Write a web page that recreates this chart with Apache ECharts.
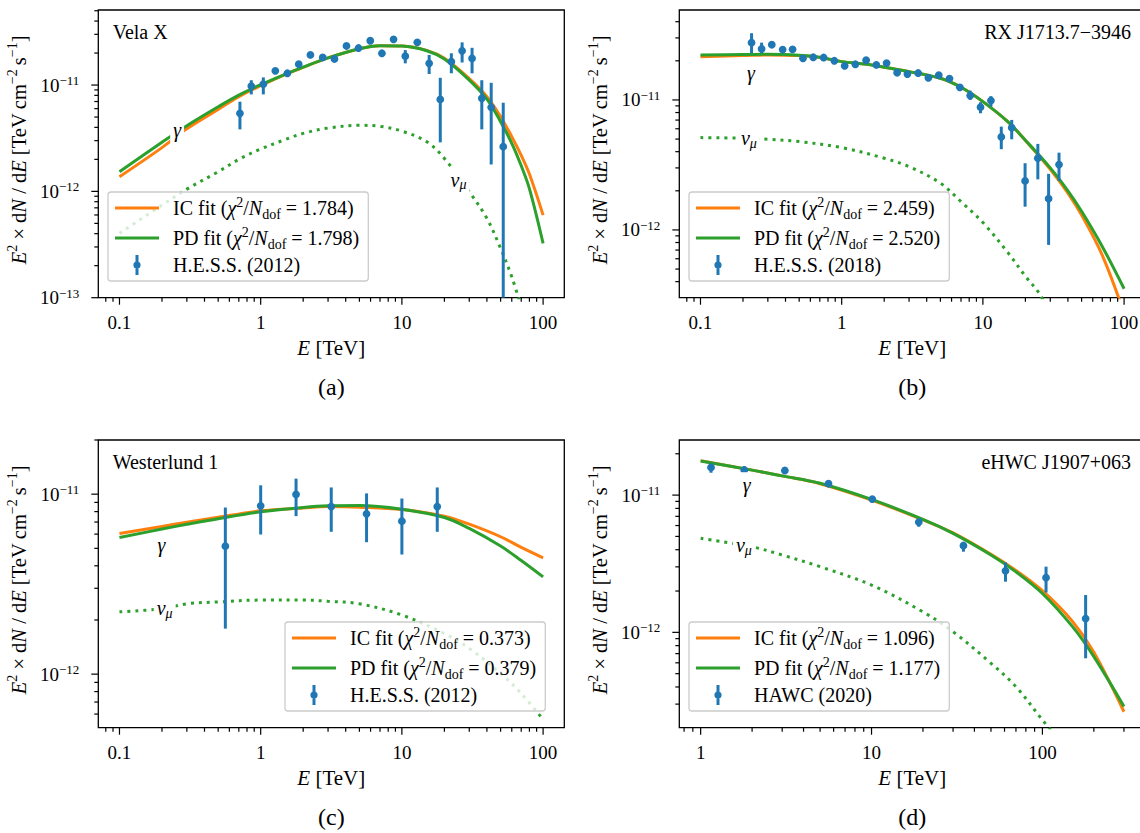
<!DOCTYPE html>
<html><head><meta charset="utf-8">
<script src="https://cdn.jsdelivr.net/npm/echarts@6.0.0/dist/echarts.min.js"></script>
<style>html,body{margin:0;padding:0;background:#fff}#chart{width:1140px;height:833px}</style>
</head><body><div id="chart"></div>
<script>
// ================= DATA =================
// (a) Vela X — H.E.S.S. (2012)
const velaE    = [0.713, 0.858, 1.044, 1.27, 1.545, 1.86, 2.25, 2.75, 3.33, 4.05, 4.93, 5.97, 7.22, 8.73, 10.57, 12.86, 15.6, 18.7, 22.4, 26.7, 31.4, 36.8, 42.9, 52.2];
const velaFlux = [5.42e-12, 9.78e-12, 1.02e-11, 1.36e-11, 1.29e-11, 1.57e-11, 1.92e-11, 1.82e-11, 1.76e-11, 2.33e-11, 2.23e-11, 2.61e-11, 1.99e-11, 2.69e-11, 1.87e-11, 2.52e-11, 1.60e-11, 7.33e-12, 1.66e-11, 2.10e-11, 1.78e-11, 7.5e-12, 6.17e-12, 2.63e-12];
const velaLo   = [3.83e-12, 8.17e-12, 8.17e-12, 1.30e-11, 1.23e-11, 1.50e-11, 1.84e-11, 1.74e-11, 1.68e-11, 2.24e-11, 2.14e-11, 2.50e-11, 1.90e-11, 2.58e-11, 1.60e-11, 2.41e-11, 1.27e-11, 2.89e-12, 1.29e-11, 1.63e-11, 1.29e-11, 3.83e-12, 1.79e-12, 1e-14];
const velaHi   = [6.97e-12, 1.11e-11, 1.18e-11, 1.42e-11, 1.35e-11, 1.64e-11, 2.01e-11, 1.90e-11, 1.84e-11, 2.43e-11, 2.33e-11, 2.73e-11, 2.08e-11, 2.81e-11, 2.13e-11, 2.64e-11, 1.92e-11, 1.17e-11, 1.99e-11, 2.52e-11, 2.24e-11, 1.11e-11, 1.05e-11, 6.82e-12];
const velaCurveE = [0.1, 0.2, 0.3, 0.5, 0.7, 1, 1.5, 2, 3, 5, 7, 10, 15, 20, 30, 40, 50, 60, 70, 80, 100];
const velaIC = [1.373e-12, 2.58e-12, 3.88e-12, 5.90e-12, 7.77e-12, 9.86e-12, 1.26e-11, 1.466e-11, 1.80e-11, 2.197e-11, 2.344e-11, 2.327e-11, 2.119e-11, 1.782e-11, 1.147e-11, 7.77e-12, 5.04e-12, 3.27e-12, 2.18e-12, 1.455e-12, 5.98e-13];
const velaPD = [1.53e-12, 2.90e-12, 4.15e-12, 6.25e-12, 8.05e-12, 1.007e-11, 1.269e-11, 1.477e-11, 1.80e-11, 2.197e-11, 2.344e-11, 2.327e-11, 2.104e-11, 1.757e-11, 1.114e-11, 7.38e-12, 4.52e-12, 2.83e-12, 1.74e-12, 1.06e-12, 3.24e-13];
const velaNuE = [0.1, 0.2, 0.3, 0.5, 0.7, 1, 1.5, 2, 3, 5, 7, 10, 15, 20, 30, 40, 50, 60, 70];
const velaNu  = [4.03e-13, 7.43e-13, 1.05e-12, 1.53e-12, 2.0e-12, 2.5e-12, 3.08e-12, 3.51e-12, 3.94e-12, 4.18e-12, 4.09e-12, 3.69e-12, 2.93e-12, 2.04e-12, 9.91e-13, 5.57e-13, 2.91e-13, 1.57e-13, 8.2e-14];

// (b) RX J1713.7−3946 — H.E.S.S. (2018)
const rxE    = [0.230, 0.271, 0.320, 0.382, 0.449, 0.532, 0.629, 0.745, 0.887, 1.05, 1.25, 1.49, 1.76, 2.08, 2.47, 2.92, 3.48, 4.11, 4.87, 5.80, 6.87, 8.13, 9.62, 11.4, 13.5, 16.0, 19.9, 24.5, 29.2, 34.6];
const rxFlux = [2.76e-11, 2.47e-11, 2.66e-11, 2.44e-11, 2.45e-11, 2.09e-11, 2.13e-11, 2.12e-11, 2.00e-11, 1.83e-11, 1.88e-11, 2.02e-11, 1.86e-11, 1.92e-11, 1.62e-11, 1.58e-11, 1.61e-11, 1.48e-11, 1.55e-11, 1.46e-11, 1.25e-11, 1.08e-11, 8.79e-12, 9.88e-12, 5.19e-12, 6.12e-12, 2.38e-12, 3.56e-12, 1.74e-12, 3.18e-12];
const rxLo   = [2.29e-11, 2.29e-11, 2.56e-11, 2.35e-11, 2.36e-11, 2.01e-11, 2.05e-11, 2.04e-11, 1.92e-11, 1.76e-11, 1.81e-11, 1.94e-11, 1.79e-11, 1.85e-11, 1.56e-11, 1.52e-11, 1.55e-11, 1.42e-11, 1.49e-11, 1.40e-11, 1.19e-11, 1.0e-11, 7.9e-12, 8.88e-12, 4.18e-12, 4.98e-12, 1.51e-12, 2.45e-12, 7.67e-13, 2.38e-12];
const rxHi   = [3.26e-11, 2.76e-11, 2.76e-11, 2.53e-11, 2.54e-11, 2.17e-11, 2.21e-11, 2.20e-11, 2.08e-11, 1.90e-11, 1.95e-11, 2.10e-11, 1.93e-11, 1.99e-11, 1.68e-11, 1.64e-11, 1.67e-11, 1.54e-11, 1.61e-11, 1.52e-11, 1.31e-11, 1.18e-11, 9.6e-12, 1.07e-11, 6.23e-12, 7.02e-12, 3.26e-12, 4.59e-12, 2.70e-12, 3.93e-12];
const rxCurveE = [0.1, 0.2, 0.3, 0.5, 0.7, 1, 1.5, 2, 3, 5, 7, 10, 15, 20, 30, 40, 50, 70, 100];
const rxIC = [2.154e-11, 2.193e-11, 2.22e-11, 2.193e-11, 2.117e-11, 1.972e-11, 1.881e-11, 1.784e-11, 1.652e-11, 1.468e-11, 1.252e-11, 9.71e-12, 6.81e-12, 4.88e-12, 2.93e-12, 1.92e-12, 1.30e-12, 6.4e-13, 2.29e-13];
const rxPD = [2.22e-11, 2.233e-11, 2.246e-11, 2.206e-11, 2.129e-11, 1.972e-11, 1.881e-11, 1.784e-11, 1.652e-11, 1.468e-11, 1.252e-11, 9.71e-12, 6.81e-12, 4.90e-12, 3.0e-12, 2.0e-12, 1.39e-12, 7.46e-13, 3.53e-13];
const rxNuE = [0.1, 0.2, 0.3, 0.5, 1, 2, 3, 5, 7, 10, 15, 20, 25, 30];
const rxNu  = [5.13e-12, 5.08e-12, 4.98e-12, 4.78e-12, 4.3e-12, 3.56e-12, 3.07e-12, 2.29e-12, 1.65e-12, 1.14e-12, 6.71e-13, 4.4e-13, 3.26e-13, 2.3e-13];

// (c) Westerlund 1 — H.E.S.S. (2012)
const wdE    = [0.562, 1.0, 1.78, 3.16, 5.62, 10.0, 17.8];
const wdFlux = [5.14e-12, 8.61e-12, 9.96e-12, 8.54e-12, 7.78e-12, 7.08e-12, 8.54e-12];
const wdLo   = [1.79e-12, 5.97e-12, 7.55e-12, 6.18e-12, 5.41e-12, 4.62e-12, 6.18e-12];
const wdHi   = [8.43e-12, 1.12e-11, 1.22e-11, 1.09e-11, 1.01e-11, 9.46e-12, 1.09e-11];
const wdCurveE = [0.1, 0.2, 0.3, 0.5, 1, 2, 3, 5, 10, 20, 30, 50, 70, 100];
const wdIC = [6.04e-12, 6.62e-12, 6.98e-12, 7.45e-12, 8.08e-12, 8.39e-12, 8.54e-12, 8.47e-12, 8.22e-12, 7.55e-12, 6.81e-12, 5.8e-12, 5.06e-12, 4.43e-12];
const wdPD = [5.74e-12, 6.40e-12, 6.80e-12, 7.31e-12, 7.98e-12, 8.43e-12, 8.61e-12, 8.65e-12, 8.25e-12, 7.42e-12, 6.45e-12, 5.15e-12, 4.28e-12, 3.47e-12];
const wdNuE = [0.1, 0.2, 0.3, 0.5, 1, 2, 3, 5, 10, 20, 30, 50, 70, 100];
const wdNu  = [2.22e-12, 2.31e-12, 2.46e-12, 2.52e-12, 2.58e-12, 2.58e-12, 2.54e-12, 2.46e-12, 2.13e-12, 1.68e-12, 1.39e-12, 1.01e-12, 7.81e-13, 5.6e-13];

// (d) eHWC J1907+063 — HAWC (2020)
const ehE    = [1.15, 1.80, 3.11, 5.60, 10.1, 18.9, 34.5, 60.8, 105, 179];
const ehFlux = [1.59e-11, 1.52e-11, 1.51e-11, 1.21e-11, 9.35e-12, 6.36e-12, 4.28e-12, 2.81e-12, 2.50e-12, 1.26e-12];
const ehLo   = [1.455e-11, 1.41e-11, 1.45e-11, 1.16e-11, 8.95e-12, 5.88e-12, 3.87e-12, 2.34e-12, 1.95e-12, 6.47e-13];
const ehHi   = [1.70e-11, 1.63e-11, 1.57e-11, 1.26e-11, 9.75e-12, 6.76e-12, 4.57e-12, 3.23e-12, 3.01e-12, 1.87e-12];
const ehCurveE = [1, 2, 3, 5, 10, 20, 30, 50, 70, 100, 150, 200, 300];
const ehIC = [1.78e-11, 1.52e-11, 1.38e-11, 1.21e-11, 9.2e-12, 6.6e-12, 5.3e-12, 3.7e-12, 2.82e-12, 2.01e-12, 1.20e-12, 7.15e-13, 2.64e-13];
const ehPD = [1.77e-11, 1.52e-11, 1.38e-11, 1.22e-11, 9.3e-12, 6.65e-12, 5.26e-12, 3.66e-12, 2.76e-12, 1.92e-12, 1.10e-12, 6.65e-13, 2.88e-13];
const ehNuE = [1, 2, 3, 5, 10, 20, 30, 50, 70, 100, 120];
const ehNu  = [4.84e-12, 4.2e-12, 3.66e-12, 3.01e-12, 2.21e-12, 1.41e-12, 1.01e-12, 5.95e-13, 4.02e-13, 2.30e-13, 1.75e-13];

// text content
const panelNames = ['Vela X', 'RX J1713.7\u22123946', 'Westerlund 1', 'eHWC J1907+063'];
const panelTags = ['(a)', '(b)', '(c)', '(d)'];
const dataNames = ['H.E.S.S. (2012)', 'H.E.S.S. (2018)', 'H.E.S.S. (2012)', 'HAWC (2020)'];
const icChi = ['1.784', '2.459', '0.373', '1.096'];
const pdChi = ['1.798', '2.520', '0.379', '1.177'];
// curve label anchors (data coordinates)
const curveLabelText = ['gamma', 'nu'];
const curveLabelE = [[0.256, 25.2], [0.228, 0.220], [0.198, 0.209], [1.86, 1.79]];
const curveLabelF = [[3.77e-12, 1.28e-12], [1.6e-11, 5.07e-12], [5.21e-12, 2.32e-12], [1.18e-11, 4.32e-12]];

// ================= LAYOUT / STYLE =================
const FONT = 'Liberation Serif, Times New Roman, serif';
const BLUE = '#1f77b4', ORANGE = '#ff7f0e', GREEN = '#2ca02c';
const PW = 466, PH = 287.7;
const layout = [
  {left: 98.3,  top: 10,  xr: [0.0708, 141.3], yr: [1e-13, 5.08e-11],   lg: {left: 108, top: 192}, nameAlign: 'left'},
  {left: 679.3, top: 10,  xr: [0.0708, 141.3], yr: [3.01e-13, 4.92e-11], lg: {left: 689, top: 192}, nameAlign: 'right'},
  {left: 98.3,  top: 440, xr: [0.0708, 141.3], yr: [5.04e-13, 2.0e-11],  lg: {left: 285, top: 622}, nameAlign: 'left'},
  {left: 679.3, top: 440, xr: [0.75, 400],     yr: [2.02e-13, 2.52e-11], lg: {left: 689, top: 622}, nameAlign: 'right'}
];
const panelData = [
  {E: velaE, F: velaFlux, lo: velaLo, hi: velaHi, cE: velaCurveE, ic: velaIC, pd: velaPD, nE: velaNuE, nu: velaNu},
  {E: rxE, F: rxFlux, lo: rxLo, hi: rxHi, cE: rxCurveE, ic: rxIC, pd: rxPD, nE: rxNuE, nu: rxNu},
  {E: wdE, F: wdFlux, lo: wdLo, hi: wdHi, cE: wdCurveE, ic: wdIC, pd: wdPD, nE: wdNuE, nu: wdNu},
  {E: ehE, F: ehFlux, lo: ehLo, hi: ehHi, cE: ehCurveE, ic: ehIC, pd: ehPD, nE: ehNuE, nu: ehNu}
];

function logTicks(min, max) {
  const out = [];
  for (let d = Math.floor(Math.log10(min)); d <= Math.ceil(Math.log10(max)); d++) {
    for (let m = 1; m <= 9; m++) {
      const v = m * Math.pow(10, d);
      if (v >= min * 0.9999 && v <= max * 1.0001) out.push([v, m === 1 ? 1 : 0]);
    }
  }
  return out;
}
function exponentOf(v) {
  const l = Math.log10(v), e = Math.round(l);
  return Math.abs(l - e) < 1e-6 ? e : null;
}
function xFmt(v) {
  const e = exponentOf(v);
  if (e === null) return '';
  return e < 0 ? '0.' + '0'.repeat(-e - 1) + '1' : '1' + '0'.repeat(e);
}
function yFmt(v) {
  const e = exponentOf(v);
  if (e === null) return '';
  return '{b|10}{s|' + (e < 0 ? '\u2212' : '') + Math.abs(e) + '}';
}

const ERR_ICON = 'path://M0.4,10a3.6,3.6 0 1 1 7.2,0a3.6,3.6 0 1 1 -7.2,0z M2.5,0h3v20h-3z';
const LINE_ICON = 'path://M0,0h44v3h-44z';
const icName = i => 'IC fit (\u03c7\u00b2/N_dof = ' + icChi[i] + ')';
const pdName = i => 'PD fit (\u03c7\u00b2/N_dof = ' + pdChi[i] + ')';

function legendFmt(name) {
  const m = name.match(/^(IC|PD) fit \(\u03c7\u00b2\/N_dof = ([\d.]+)\)$/);
  if (m) return '{g| }{t|' + m[1] + ' fit (}{i|\u03c7}{sup|2}{t|/}{i|N}{sub|dof}{t| = ' + m[2] + ')}';
  return '{g| }{t|' + name + '}';
}
const legendRich = {
  g: {width: 9, fontSize: 20, lineHeight: 26},
  t: {fontSize: 20, lineHeight: 26, fontFamily: FONT, color: '#000'},
  i: {fontSize: 20, lineHeight: 26, fontFamily: FONT, fontStyle: 'italic', color: '#000'},
  sup: {fontSize: 14, lineHeight: 14, fontFamily: FONT, verticalAlign: 'top', color: '#000'},
  sub: {fontSize: 14, lineHeight: 15, fontFamily: FONT, verticalAlign: 'bottom', color: '#000'}
};

const grids = [], xAxes = [], yAxes = [], series = [], legends = [], graphics = [];
layout.forEach((L, i) => {
  const D = panelData[i];
  grids.push({left: L.left, top: L.top, width: PW, height: PH, show: true, borderColor: '#000', borderWidth: 1.3,
    backgroundColor: 'transparent', containLabel: false, outerBoundsMode: 'none'});
  xAxes.push({type: 'log', logBase: 10, gridIndex: i, min: L.xr[0], max: L.xr[1],
    axisLine: {show: false}, axisTick: {show: false}, minorTick: {show: false}, splitLine: {show: false},
    axisLabel: {formatter: xFmt, color: '#000', fontSize: 19, fontFamily: FONT, margin: 15, lineHeight: 19},
    name: '{i|E}{t| [TeV]}', nameLocation: 'middle', nameGap: 38,
    nameTextStyle: {rich: {i: {fontSize: 21, fontStyle: 'italic', fontFamily: FONT, color: '#000', lineHeight: 24},
                           t: {fontSize: 21, fontFamily: FONT, color: '#000', lineHeight: 24}}}});
  yAxes.push({type: 'log', logBase: 10, gridIndex: i, min: L.yr[0], max: L.yr[1],
    axisLine: {show: false}, axisTick: {show: false}, minorTick: {show: false}, splitLine: {show: false},
    axisLabel: {formatter: yFmt, margin: 19, rich: {
      b: {fontSize: 19, lineHeight: 22, fontFamily: FONT, color: '#000'},
      s: {fontSize: 13, lineHeight: 13, fontFamily: FONT, color: '#000', verticalAlign: 'top'}}},
    name: '{i|E}{sup|2}{t| \u00d7 d}{i|N}{t| / d}{i|E}{t| [TeV\u2009cm}{sup|\u22122}{t|\u2009s}{sup|\u22121}{t|]}',
    nameLocation: 'middle', nameGap: 65,
    nameTextStyle: {padding: [0, 0, 0, 8], rich: {
      i: {fontSize: 20.5, fontStyle: 'italic', fontFamily: FONT, color: '#000', lineHeight: 28},
      t: {fontSize: 20.5, fontFamily: FONT, color: '#000', lineHeight: 28},
      sup: {fontSize: 14, fontFamily: FONT, color: '#000', lineHeight: 14, verticalAlign: 'top'}}}});

  series.push({type: 'line', name: icName(i), xAxisIndex: i, yAxisIndex: i, symbol: 'none', smooth: 0.35,
    data: D.cE.map((e, k) => [e, D.ic[k]]), lineStyle: {color: ORANGE, width: 3}, itemStyle: {color: ORANGE}, z: 2, silent: true});
  series.push({type: 'line', name: pdName(i), xAxisIndex: i, yAxisIndex: i, symbol: 'none', smooth: 0.35,
    data: D.cE.map((e, k) => [e, D.pd[k]]), lineStyle: {color: GREEN, width: 3}, itemStyle: {color: GREEN}, z: 3, silent: true});
  series.push({type: 'line', name: 'nu_mu_' + i, xAxisIndex: i, yAxisIndex: i, symbol: 'none', smooth: 0.35,
    data: D.nE.map((e, k) => [e, D.nu[k]]), lineStyle: {color: GREEN, width: 3, type: [3, 5], cap: 'butt'}, itemStyle: {color: GREEN}, z: 2, silent: true});
  series.push({type: 'custom', name: dataNames[i], xAxisIndex: i, yAxisIndex: i, itemStyle: {color: BLUE}, z: 4, silent: true,
    encode: {x: 0, y: 1},
    data: D.E.map((e, k) => [e, D.F[k], D.lo[k], D.hi[k]]),
    renderItem: function (params, api) {
      const cs = params.coordSys;
      const x = api.value(0), f = api.value(1), lo = api.value(2), hi = api.value(3);
      const p = api.coord([x, f]);
      let yT = api.coord([x, hi])[1], yB = api.coord([x, lo])[1];
      yT = Math.max(yT, cs.y); yB = Math.min(yB, cs.y + cs.height);
      const ch = [];
      if (yB > yT) ch.push({type: 'line', shape: {x1: p[0], y1: yT, x2: p[0], y2: yB}, style: {stroke: BLUE, lineWidth: 3}});
      if (p[1] >= cs.y && p[1] <= cs.y + cs.height) ch.push({type: 'circle', shape: {cx: p[0], cy: p[1], r: 3.9}, style: {fill: BLUE}});
      return {type: 'group', children: ch};
    }});
  series.push({type: 'custom', name: 'labels_' + i, xAxisIndex: i, yAxisIndex: i, z: 5, silent: true, encode: {x: 0, y: 1},
    data: curveLabelE[i].map((e, k) => [e, curveLabelF[i][k]]),
    renderItem: function (params, api) {
      const p = api.coord([api.value(0), api.value(1)]);
      const kind = curveLabelText[params.dataIndex];
      const txt = kind === 'gamma' ? '{i|\u03b3}' : '{i|\u03bd}{sub|\u03bc}';
      return {type: 'text', x: p[0], y: p[1], style: {text: txt, align: 'center', verticalAlign: 'middle',
        backgroundColor: '#fff', padding: [1, 3, 1, 3],
        rich: {i: {fontSize: 20, fontStyle: 'italic', fontFamily: FONT, fill: '#000', color: '#000', lineHeight: 24},
               sub: {fontSize: 14, fontStyle: 'italic', fontFamily: FONT, fill: '#000', color: '#000', lineHeight: 14, verticalAlign: 'bottom'}}}};
    }});
  const tx = logTicks(L.xr[0], L.xr[1]).map(t => [t[0], L.yr[0], t[1], 0]);
  const ty = logTicks(L.yr[0], L.yr[1]).map(t => [L.xr[0], t[0], t[1], 1]);
  series.push({type: 'custom', name: 'ticks_' + i, xAxisIndex: i, yAxisIndex: i, z: 6, silent: true, encode: {x: 0, y: 1},
    data: tx.concat(ty),
    renderItem: function (params, api) {
      const cs = params.coordSys;
      const major = api.value(2), kind = api.value(3);
      const len = major ? 7 : 4;
      const p = api.coord([api.value(0), api.value(1)]);
      let shape;
      if (kind === 0) { const yb = cs.y + cs.height; shape = {x1: p[0], y1: yb, x2: p[0], y2: yb + len}; }
      else { shape = {x1: cs.x - len, y1: p[1], x2: cs.x, y2: p[1]}; }
      return {type: 'line', shape: shape, style: {stroke: '#000', lineWidth: 1.2}};
    }});

  legends.push({orient: 'vertical', left: L.lg.left, top: L.lg.top, itemWidth: 44, itemHeight: 20, itemGap: 4,
    padding: [3, 9, 6, 7], backgroundColor: 'rgba(255,255,255,0.8)', borderColor: '#cccccc', borderWidth: 1.3,
    borderRadius: 3, selectedMode: false, z: 7,
    data: [{name: icName(i), icon: LINE_ICON}, {name: pdName(i), icon: LINE_ICON}, {name: dataNames[i], icon: ERR_ICON}],
    formatter: legendFmt, textStyle: {rich: legendRich, fontFamily: FONT, fontSize: 20, color: '#000'}});

  const nameX = L.nameAlign === 'left' ? L.left + 14.4 : L.left + PW - 14.3;
  graphics.push({type: 'text', x: nameX, y: L.top + 22, z: 8,
    style: {text: panelNames[i], font: '20px ' + FONT, fontFamily: FONT, fontSize: 20, fill: '#000', align: L.nameAlign, verticalAlign: 'middle'}});
  graphics.push({type: 'text', x: L.left + PW / 2, y: L.top + PH + 89, z: 8,
    style: {text: panelTags[i], font: '24px ' + FONT, fontFamily: FONT, fontSize: 24, fill: '#000', align: 'center', verticalAlign: 'middle'}});
});

const chart = echarts.init(document.getElementById('chart'), null, {renderer: 'svg', width: 1140, height: 833});
chart.setOption({
  animation: false,
  backgroundColor: '#fff',
  textStyle: {fontFamily: FONT},
  grid: grids, xAxis: xAxes, yAxis: yAxes, series: series, legend: legends,
  graphic: {elements: graphics}
});
</script></body></html>
